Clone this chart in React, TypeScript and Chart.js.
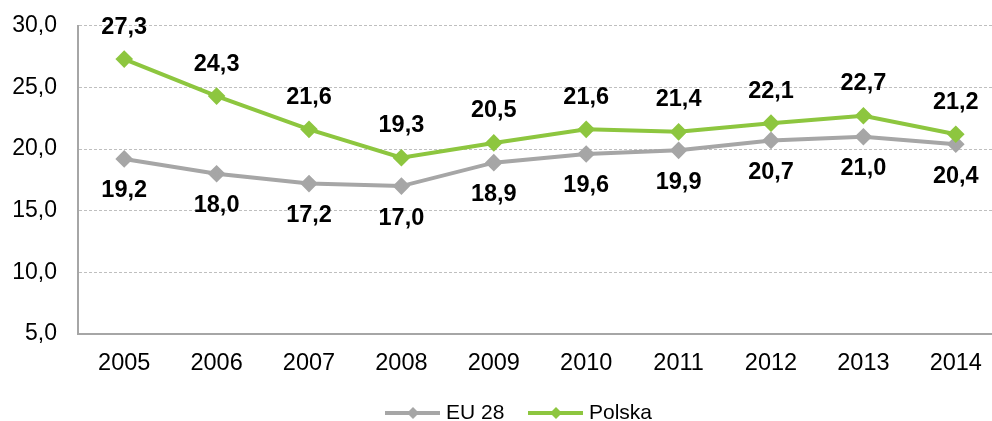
import React, { useEffect, useRef } from "react";
import { Chart, registerables } from "chart.js";

Chart.register(...registerables);

const years = ["2005", "2006", "2007", "2008", "2009", "2010", "2011", "2012", "2013", "2014"];
const eu28 = [19.2, 18.0, 17.2, 17.0, 18.9, 19.6, 19.9, 20.7, 21.0, 20.4];
const polska = [27.3, 24.3, 21.6, 19.3, 20.5, 21.6, 21.4, 22.1, 22.7, 21.2];
const seriesNames = ["EU 28", "Polska"];

const GRAY = "#A6A6A6";
const GREEN = "#8DC63F";
const FONT = "'Liberation Sans', Arial, sans-serif";
const SHIFT = 9;

const fmt = (v: number) => v.toFixed(1).replace(".", ",");

const labelsPlugin = {
  id: "valueLabels",
  afterDatasetsDraw(chart: any) {
    const ctx = chart.ctx;
    ctx.save();
    ctx.font = `bold 23.5px ${FONT}`;
    ctx.fillStyle = "#000";
    ctx.textAlign = "center";
    ctx.textBaseline = "middle";
    chart.data.datasets.forEach((ds: any, di: number) => {
      const meta = chart.getDatasetMeta(di);
      const above = ds.label === "Polska";
      meta.data.forEach((pt: any, i: number) => {
        const y = above ? pt.y - 32 : pt.y + 32;
        ctx.fillText(fmt(ds.data[i]), pt.x, y);
      });
    });
    ctx.restore();
  },
};

const legendPlugin = {
  id: "customLegend",
  afterDraw(chart: any) {
    const ctx = chart.ctx;
    ctx.save();
    ctx.font = `21px ${FONT}`;
    ctx.textBaseline = "middle";
    ctx.textAlign = "left";
    const y = 413 + SHIFT;
    const items = [
      { name: seriesNames[0], color: GRAY, x: 385 },
      { name: seriesNames[1], color: GREEN, x: 528 },
    ];
    items.forEach((it) => {
      ctx.strokeStyle = it.color;
      ctx.lineWidth = 4;
      ctx.beginPath();
      ctx.moveTo(it.x, y);
      ctx.lineTo(it.x + 55, y);
      ctx.stroke();
      const cx = it.x + 28;
      ctx.fillStyle = it.color;
      ctx.beginPath();
      ctx.moveTo(cx, y - 6);
      ctx.lineTo(cx + 6, y);
      ctx.lineTo(cx, y + 6);
      ctx.lineTo(cx - 6, y);
      ctx.closePath();
      ctx.fill();
      ctx.fillStyle = "#000";
      ctx.fillText(it.name, it.x + 61, y);
    });
    ctx.restore();
  },
};

export default function App() {
  const ref = useRef<HTMLCanvasElement>(null);
  useEffect(() => {
    if (!ref.current) return;
    const chart = new Chart(ref.current, {
      type: "line",
      data: {
        labels: years,
        datasets: [
          {
            label: seriesNames[0],
            data: eu28,
            borderColor: GRAY,
            backgroundColor: GRAY,
            borderWidth: 4,
            pointStyle: "rectRot",
            pointRadius: 6,
            pointHoverRadius: 6,
            tension: 0,
            order: 1,
          },
          {
            label: seriesNames[1],
            data: polska,
            borderColor: GREEN,
            backgroundColor: GREEN,
            borderWidth: 4,
            pointStyle: "rectRot",
            pointRadius: 6,
            pointHoverRadius: 6,
            tension: 0,
            order: 0,
          },
        ],
      },
      options: {
        responsive: false,
        animation: false,
        devicePixelRatio: 1,
        layout: { padding: { top: 10, right: 3, bottom: 0, left: 0 } },
        plugins: {
          legend: { display: false },
          tooltip: { enabled: false },
        },
        scales: {
          x: {
            offset: true,
            grid: { display: false, drawTicks: false },
            border: { display: true, color: GRAY, width: 2 },
            ticks: {
              color: "#000",
              font: { family: FONT, size: 23.5 },
              padding: 15,
              maxRotation: 0,
            },
            afterFit: (s: any) => {
              s.height = 87;
            },
          },
          y: {
            min: 5,
            max: 30,
            grid: { color: "#BFBFBF", lineWidth: 1, drawTicks: false },
            border: { display: true, color: GRAY, width: 2, dash: [3, 2] },
            ticks: {
              stepSize: 5,
              color: "#000",
              font: { family: FONT, size: 23 },
              padding: 21,
              callback: (v: any) => fmt(Number(v)),
            },
            afterFit: (s: any) => {
              s.width = 78;
            },
          },
        },
      },
      plugins: [labelsPlugin, legendPlugin],
    });
    return () => chart.destroy();
  }, []);
  return (
    <div
      style={{
        position: "fixed",
        left: 0,
        top: 0,
        width: 992,
        height: 421,
        overflow: "hidden",
        background: "#fff",
      }}
    >
      <canvas
        ref={ref}
        width={1012}
        height={421 + SHIFT}
        style={{ display: "block", width: 1012, height: 421 + SHIFT, marginTop: -SHIFT }}
      />
    </div>
  );
}
